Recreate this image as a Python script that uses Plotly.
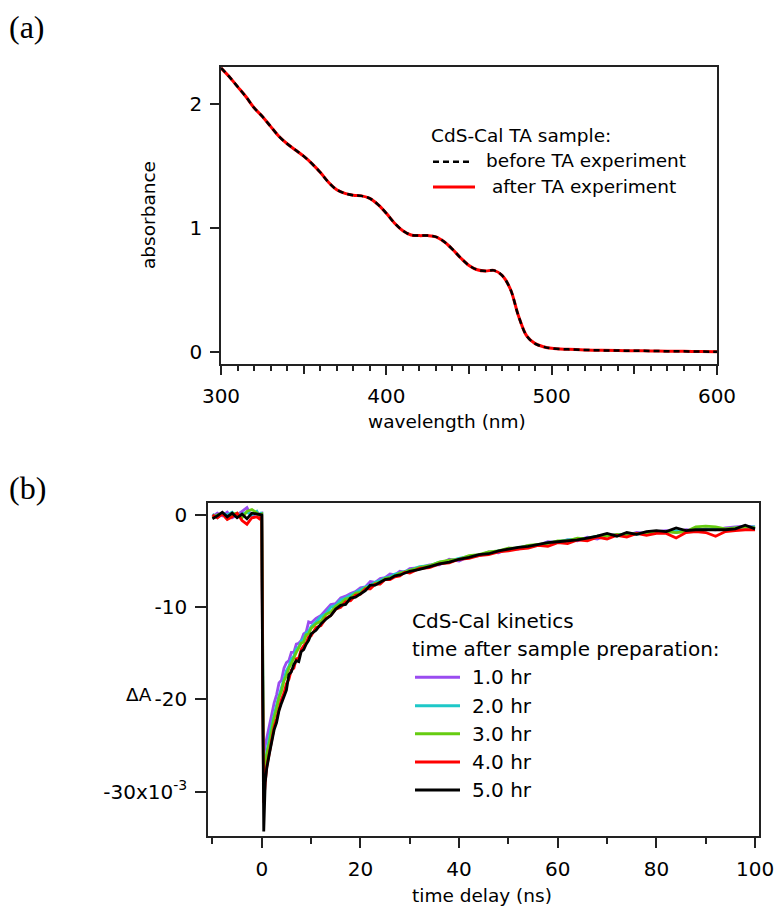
import plotly.graph_objects as go

# ---------------- data: panel (a) absorbance spectrum ----------------
wavelength_nm = [300, 305, 310, 315, 320, 325, 330, 335, 340, 345, 350, 355, 360, 365, 370,
                 375, 380, 385, 390, 395, 400, 405, 410, 415, 420, 425, 430, 435, 440, 445,
                 450, 455, 460, 465, 470, 475, 480, 485, 490, 495, 500, 510, 520, 530, 540,
                 550, 560, 570, 580, 590, 600]
abs_before = [2.29, 2.22, 2.14, 2.06, 1.97, 1.90, 1.82, 1.74, 1.68, 1.63, 1.58, 1.52, 1.45, 1.37, 1.31,
              1.28, 1.265, 1.26, 1.24, 1.19, 1.12, 1.04, 0.98, 0.945, 0.94, 0.94, 0.93, 0.89, 0.83, 0.76,
              0.70, 0.665, 0.655, 0.66, 0.62, 0.51, 0.29, 0.13, 0.07, 0.045, 0.032, 0.024, 0.019, 0.016, 0.014,
              0.013, 0.011, 0.009, 0.008, 0.006, 0.005]
abs_after = [2.29, 2.22, 2.14, 2.06, 1.97, 1.90, 1.82, 1.74, 1.68, 1.63, 1.58, 1.52, 1.45, 1.37, 1.31,
             1.28, 1.265, 1.26, 1.24, 1.19, 1.12, 1.04, 0.98, 0.945, 0.94, 0.94, 0.93, 0.89, 0.83, 0.76,
             0.70, 0.665, 0.655, 0.66, 0.62, 0.51, 0.29, 0.13, 0.07, 0.045, 0.032, 0.024, 0.019, 0.016, 0.014,
             0.013, 0.011, 0.009, 0.008, 0.006, 0.005]

# ---------------- data: panel (b) kinetics (dA in units of 1e-3) ----------------
time_ns = [-10, -9, -8, -7, -6, -5, -4, -3, -2, -1, -0.5, 0, 0.2, 0.4, 0.7,
           1, 1.5, 2, 2.5, 3, 3.5, 4, 4.5, 5, 5.5, 6, 6.5, 7, 7.5, 8, 8.5, 9, 9.5, 10,
           11, 12, 13, 14, 15, 16, 17, 18, 19, 20, 21, 22, 23, 24, 25, 26, 27, 28, 29, 30,
           32, 34, 36, 38, 40, 42, 44, 46, 48, 50, 52, 54, 56, 58, 60, 62, 64, 66, 68, 70,
           72, 74, 76, 78, 80, 82, 84, 86, 88, 90, 92, 94, 96, 98, 100]

dA_1hr = [-0.2, 0.2, -0.1, 0.3, -0.3, 0.0, 0.4, 0.8, -0.2, 0.3, 0.1, 0.2, -16.0, -26.0, -25.0,
          -24.2, -23.0, -21.6, -20.4, -19.5, -18.2, -17.9, -16.6, -16.0, -15.8, -14.9, -14.9, -14.0, -13.9, -13.6, -12.9, -12.7, -11.6, -11.7,
          -11.2, -10.9, -10.3, -9.7, -9.6, -9.0, -8.8, -8.5, -8.3, -7.9, -7.8, -7.2, -7.3, -6.9, -6.8, -6.4, -6.5, -6.1, -6.2, -5.8,
          -5.7, -5.4, -5.4, -4.8, -5.0, -4.5, -4.4, -4.0, -4.1, -3.6, -3.7, -3.3, -3.3, -2.9, -3.0, -2.7, -2.8, -2.4, -2.6, -2.2,
          -2.1, -2.2, -1.9, -2.0, -1.8, -1.7, -1.9, -1.6, -1.7, -1.5, -1.6, -1.4, -1.3, -1.2, -1.3]

dA_2hr = [0.1, -0.3, 0.2, 0.0, 0.3, -0.2, 0.1, 0.3, 0.0, 0.4, -0.1, 0.3, -18.0, -29.0, -26.8,
          -25.6, -24.2, -22.8, -21.6, -20.6, -19.6, -18.6, -17.6, -16.9, -16.4, -15.6, -15.3, -14.5, -14.3, -13.7, -13.4, -12.8, -12.6, -12.1,
          -11.6, -11.0, -10.7, -10.0, -9.8, -9.2, -9.0, -8.7, -8.4, -8.1, -7.8, -7.6, -7.3, -7.1, -6.8, -6.7, -6.4, -6.3, -6.1, -6.0,
          -5.6, -5.5, -5.1, -5.0, -4.7, -4.5, -4.4, -4.1, -3.9, -3.8, -3.5, -3.4, -3.3, -3.0, -2.9, -2.7, -2.6, -2.5, -2.3, -2.2,
          -2.2, -2.0, -2.1, -1.9, -1.8, -1.9, -1.7, -1.8, -1.6, -1.6, -1.5, -1.6, -1.4, -1.3, -1.3]

dA_3hr = [-0.3, 0.0, 0.2, -0.4, 0.1, 0.2, -0.3, 0.4, 0.6, 0.2, 0.0, 0.1, -19.0, -29.5, -27.5,
          -26.0, -24.8, -23.3, -22.0, -21.0, -19.8, -19.1, -18.0, -17.4, -16.6, -16.1, -15.4, -14.9, -14.4, -13.9, -13.8, -13.0, -12.9, -12.3,
          -11.8, -11.5, -10.8, -10.5, -9.9, -9.6, -9.1, -9.0, -8.5, -8.4, -7.9, -7.8, -7.4, -7.3, -6.9, -6.8, -6.6, -6.3, -6.2, -6.0,
          -5.7, -5.5, -5.1, -4.9, -4.8, -4.4, -4.3, -4.0, -3.9, -3.6, -3.6, -3.3, -3.2, -3.1, -2.8, -2.8, -2.5, -2.6, -2.3, -2.3,
          -2.1, -2.2, -2.0, -2.0, -1.9, -1.8, -1.9, -1.8, -1.3, -1.2, -1.3, -1.5, -1.4, -1.3, -1.4]

dA_4hr = [0.0, -0.3, 0.1, -0.5, -0.2, 0.2, -0.6, -1.0, -0.3, -0.2, -0.4, 0.0, -20.0, -31.2, -29.0,
          -27.3, -25.9, -24.6, -23.0, -22.1, -21.0, -20.0, -19.3, -18.3, -17.8, -16.8, -16.6, -15.6, -15.5, -14.6, -14.2, -13.9, -13.2, -13.1,
          -12.2, -12.0, -11.2, -10.9, -10.2, -10.0, -9.4, -9.3, -8.7, -8.6, -8.0, -8.0, -7.5, -7.5, -7.0, -7.0, -6.7, -6.6, -6.2, -6.3,
          -5.8, -5.7, -5.3, -5.2, -4.8, -4.7, -4.4, -4.3, -4.0, -3.9, -3.7, -3.6, -3.3, -3.4, -3.0, -3.1, -2.7, -2.8, -2.4, -2.6,
          -2.2, -2.4, -2.0, -2.2, -2.0, -2.0, -2.5, -1.9, -1.8, -1.9, -2.3, -1.8, -1.7, -1.6, -1.6]

dA_5hr = [-0.4, -0.1, 0.3, -0.2, 0.2, -0.3, 0.1, -0.4, 0.2, 0.1, 0.0, 0.0, -20.0, -34.3, -29.0,
          -27.5, -26.0, -24.5, -23.3, -22.5, -21.2, -20.4, -19.6, -19.0, -17.3, -17.0, -16.2, -15.8, -15.9, -14.8, -14.6, -14.0, -13.6, -12.9,
          -12.5, -11.8, -11.3, -10.9, -10.2, -9.8, -9.7, -9.0, -8.9, -8.5, -8.2, -7.6, -7.6, -7.3, -7.0, -6.9, -6.6, -6.5, -6.3, -6.1,
          -5.9, -5.6, -5.3, -5.1, -4.8, -4.6, -4.3, -4.2, -3.9, -3.7, -3.5, -3.4, -3.2, -3.0, -2.9, -2.8, -2.7, -2.5, -2.3, -2.0,
          -2.3, -1.9, -2.1, -1.8, -1.7, -1.8, -1.4, -1.7, -1.6, -1.6, -1.6, -1.6, -1.5, -1.1, -1.5]

series_names = ["1.0 hr", "2.0 hr", "3.0 hr", "4.0 hr", "5.0 hr"]
series_values = [dA_1hr, dA_2hr, dA_3hr, dA_4hr, dA_5hr]
series_colors = ["#9a4cf0", "#1ec8c8", "#66cc11", "#ff0000", "#000000"]

xa_ticks = [300, 400, 500, 600]
xa_mid_ticks = [350, 450, 550]
ya_ticks = [0, 1, 2]
xb_ticks = [0, 20, 40, 60, 80, 100]
yb_ticks = [0, -10, -20, -30]
yb_ticktext = ["0", "-10", "-20", "-30x10<sup>-3</sup>"]

# ---------------- layout helpers ----------------
W, H = 778, 911
FONT = "DejaVu Sans"
AXC = "#222222"


def xp(px):
    return px / W


def yp(py):
    return 1 - py / H


fig = go.Figure()

# panel (a)
fig.add_trace(go.Scatter(x=wavelength_nm, y=abs_after, mode="lines", line=dict(color="#ff0000", width=3, shape="spline"),
                         xaxis="x", yaxis="y", name="after TA experiment"))
fig.add_trace(go.Scatter(x=wavelength_nm, y=abs_before, mode="lines",
                         line=dict(color="#000000", width=2.5, dash="6px,4px", shape="spline"),
                         xaxis="x", yaxis="y", name="before TA experiment"))

# panel (b)
for nm, vals, col in zip(series_names, series_values, series_colors):
    fig.add_trace(go.Scatter(x=time_ns, y=vals, mode="lines", line=dict(color=col, width=2.8),
                             xaxis="x2", yaxis="y2", name=nm))

tickfont = dict(family=FONT, size=20, color="black")
common = dict(showline=True, linecolor=AXC, linewidth=1.5, mirror=True, showgrid=False, zeroline=False,
              ticks="outside", tickcolor=AXC, tickwidth=1.5, tickfont=tickfont, automargin=False,
              ticklabelstandoff=4)

fig.update_layout(
    width=W, height=H, margin=dict(l=0, r=0, t=0, b=0),
    paper_bgcolor="white", plot_bgcolor="white", showlegend=False,
    xaxis=dict(domain=[xp(221), xp(717)], range=[300, 600], anchor="y",
               tickmode="array", tickvals=xa_ticks, ticklen=9,
               minor=dict(dtick=10, tick0=300, ticklen=5, ticks="outside", tickcolor=AXC, tickwidth=1.5),
               **common),
    xaxis3=dict(domain=[xp(221), xp(717)], range=[300, 600], anchor="y", overlaying="x", side="bottom",
                tickmode="array", tickvals=xa_mid_ticks, ticklen=9, ticks="outside", tickcolor=AXC, tickwidth=1.5,
                showticklabels=False, showline=False, showgrid=False, zeroline=False),
    yaxis=dict(domain=[yp(364), yp(67)], range=[-0.094, 2.298], anchor="x",
               tickmode="array", tickvals=ya_ticks, ticklen=9, **common),
    xaxis2=dict(domain=[xp(208), xp(759)], range=[-10.9, 100.8], anchor="y2",
                tickmode="array", tickvals=xb_ticks, ticklen=10,
                minor=dict(dtick=10, tick0=0, ticklen=6, ticks="outside", tickcolor=AXC, tickwidth=1.5),
                **common),
    yaxis2=dict(domain=[yp(836), yp(503)], range=[-34.8, 1.3], anchor="x2",
                tickmode="array", tickvals=yb_ticks, ticktext=yb_ticktext, ticklen=11, **common),
)
# invisible helper trace to activate the mid-tick axis
fig.add_trace(go.Scatter(x=[300], y=[None], xaxis="x3", yaxis="y", showlegend=False, hoverinfo="skip"))

ann = []


def text(px, py, s, size=18.5, anchor="left", angle=0, family=FONT):
    ann.append(dict(x=xp(px), y=yp(py), xref="paper", yref="paper", text=s, showarrow=False,
                    xanchor=anchor, yanchor="middle", textangle=angle,
                    font=dict(family=family, size=size, color="black")))


# panel labels
text(7, 27, "(a)", size=32, family="Liberation Serif")
text(7, 488, "(b)", size=32, family="Liberation Serif")

# axis titles
text(148.5, 215.5, "absorbance", anchor="center", angle=-90)
text(447, 421, "wavelength (nm)", anchor="center")
text(139, 694, "ΔA", anchor="center")
text(482, 895, "time delay (ns)", anchor="center")

# legend (a)
text(429, 135, "CdS-Cal TA sample:")
text(484, 160.5, "before TA experiment")
text(484, 186.5, " after TA experiment")

# legend (b)
text(410, 621, "CdS-Cal kinetics", size=20)
text(410, 649, "time after sample preparation:", size=20)
leg_b_y = [677.3, 705.7, 733.7, 762, 790]
for nm, col, ly in zip(series_names, series_colors, leg_b_y):
    text(470, ly, nm, size=20)

shapes = [
    dict(type="line", xref="paper", yref="paper", x0=xp(433), x1=xp(473), y0=yp(161.7), y1=yp(161.7),
         line=dict(color="black", width=2.5, dash="6px,4px")),
    dict(type="line", xref="paper", yref="paper", x0=xp(433), x1=xp(475), y0=yp(187), y1=yp(187),
         line=dict(color="#ff0000", width=3)),
]
for col, ly in zip(series_colors, leg_b_y):
    shapes.append(dict(type="line", xref="paper", yref="paper", x0=xp(415), x1=xp(460), y0=yp(ly), y1=yp(ly),
                       line=dict(color=col, width=3)))

fig.update_layout(annotations=ann, shapes=shapes)

fig.write_html("out.html", config={"displayModeBar": False},
               post_script="document.body.style.margin='0px';")
